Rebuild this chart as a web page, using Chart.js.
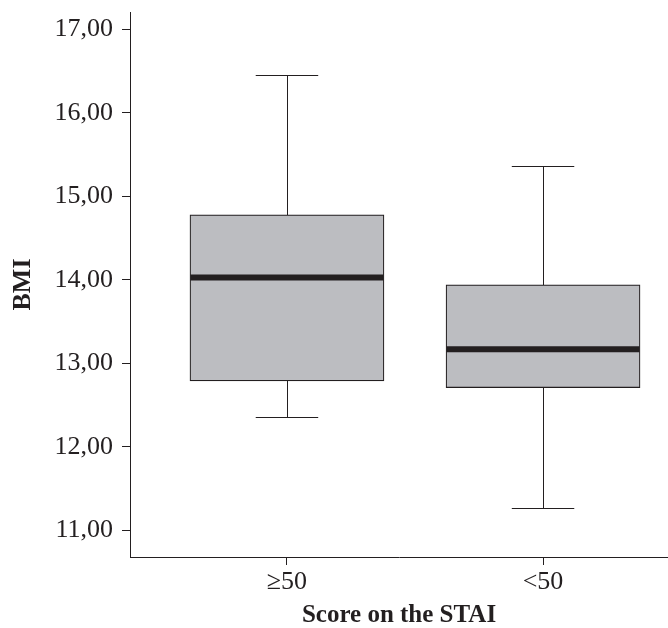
<!DOCTYPE html>
<html>
<head>
<meta charset="utf-8">
<script src="https://cdn.jsdelivr.net/npm/chart.js@4.4.1/dist/chart.umd.min.js"></script>
<style>
  html, body { margin: 0; padding: 0; background: #fff; }
  #wrap { width: 668px; height: 628px; }
</style>
</head>
<body>
<div id="wrap"><canvas id="box_id"></canvas></div>
<script>
// groups on the x axis
const categories = ["\u226550", "<50"];
const positions = [1, 2];

// box plot stats per group
const whiskerLow = [12.36, 11.27];
const q1 = [12.79, 12.71];
const medians = [14.03, 13.17];
const q3 = [14.78, 13.94];
const whiskerHigh = [16.46, 15.37];

const yTicks = [11, 12, 13, 14, 15, 16, 17];

const ink = '#231f20';

// whiskers + caps go under the boxes, medians on top
const boxExtras = {
    id: 'boxExtras',
    beforeDatasetsDraw(chart) {
        const ctx = chart.ctx;
        const x = chart.scales.x;
        const y = chart.scales.y;
        ctx.save();
        ctx.strokeStyle = ink;
        ctx.lineWidth = 1;
        for (let i = 0; i < positions.length; i++) {
            const cx = Math.round(x.getPixelForValue(positions[i])) + 0.5;
            const capL = x.getPixelForValue(positions[i] - 0.122);
            const capR = x.getPixelForValue(positions[i] + 0.122);
            const lo = Math.round(y.getPixelForValue(whiskerLow[i])) + 0.5;
            const hi = Math.round(y.getPixelForValue(whiskerHigh[i])) + 0.5;
            ctx.beginPath();
            ctx.moveTo(cx, lo);
            ctx.lineTo(cx, hi);
            ctx.moveTo(capL, lo);
            ctx.lineTo(capR, lo);
            ctx.moveTo(capL, hi);
            ctx.lineTo(capR, hi);
            ctx.stroke();
        }
        ctx.restore();
    },
    afterDatasetsDraw(chart) {
        const ctx = chart.ctx;
        const x = chart.scales.x;
        const y = chart.scales.y;
        ctx.save();
        ctx.strokeStyle = ink;
        ctx.lineWidth = 6;
        for (let i = 0; i < positions.length; i++) {
            const l = x.getPixelForValue(positions[i] - 0.377);
            const r = x.getPixelForValue(positions[i] + 0.377);
            const m = y.getPixelForValue(medians[i]);
            ctx.beginPath();
            ctx.moveTo(l, m);
            ctx.lineTo(r, m);
            ctx.stroke();
        }
        ctx.restore();
    }
};

new Chart(document.getElementById('box_id'), {
    type: 'bar',
    data: {
        datasets: [{
            data: positions.map((p, i) => ({ x: p, y: [q1[i], q3[i]] })),
            backgroundColor: '#bcbdc1',
            borderColor: ink,
            borderWidth: 1.2,
            borderSkipped: false,
            barThickness: 194
        }]
    },
    options: {
        responsive: true,
        maintainAspectRatio: false,
        animation: false,
        layout: { padding: { top: 12, right: 0, left: 0, bottom: 0 } },
        plugins: {
            legend: { display: false },
            tooltip: { enabled: false }
        },
        scales: {
            x: {
                type: 'linear',
                offset: false,
                min: 0.387,
                max: 2.488,
                afterBuildTicks: (scale) => { scale.ticks = positions.map(v => ({ value: v })); },
                afterFit: (scale) => {
                    scale.height = 71;
                    scale.paddingLeft = 0;
                    scale.paddingRight = 0;
                },
                grid: { offset: false, drawOnChartArea: false, drawTicks: true, tickLength: 8, color: ink },
                border: { display: true, color: ink, width: 1 },
                ticks: {
                    color: ink,
                    padding: 2,
                    maxRotation: 0,
                    font: { family: 'Liberation Serif', size: 26 },
                    callback: (v) => categories[positions.indexOf(v)]
                },
                title: {
                    display: true,
                    text: 'Score on the STAI',
                    color: ink,
                    padding: { top: 0, bottom: 0 },
                    font: { family: 'Liberation Serif', size: 25, weight: 'bold', lineHeight: 1.0 }
                }
            },
            y: {
                min: 10.68,
                max: 17.21,
                afterBuildTicks: (scale) => { scale.ticks = yTicks.map(v => ({ value: v })); },
                afterFit: (scale) => {
                    scale.width = 130;
                    scale.paddingTop = 0;
                    scale.paddingBottom = 0;
                },
                grid: { drawOnChartArea: false, drawTicks: true, tickLength: 8, color: ink },
                border: { display: true, color: ink, width: 1 },
                ticks: {
                    color: ink,
                    padding: 9,
                    font: { family: 'Liberation Serif', size: 26 },
                    callback: (v) => v.toFixed(2).replace('.', ',')
                },
                title: {
                    display: true,
                    text: 'BMI',
                    color: ink,
                    padding: { top: 8, bottom: 0 },
                    font: { family: 'Liberation Serif', size: 26, weight: 'bold' }
                }
            }
        }
    },
    plugins: [boxExtras]
});
</script>
</body>
</html>
